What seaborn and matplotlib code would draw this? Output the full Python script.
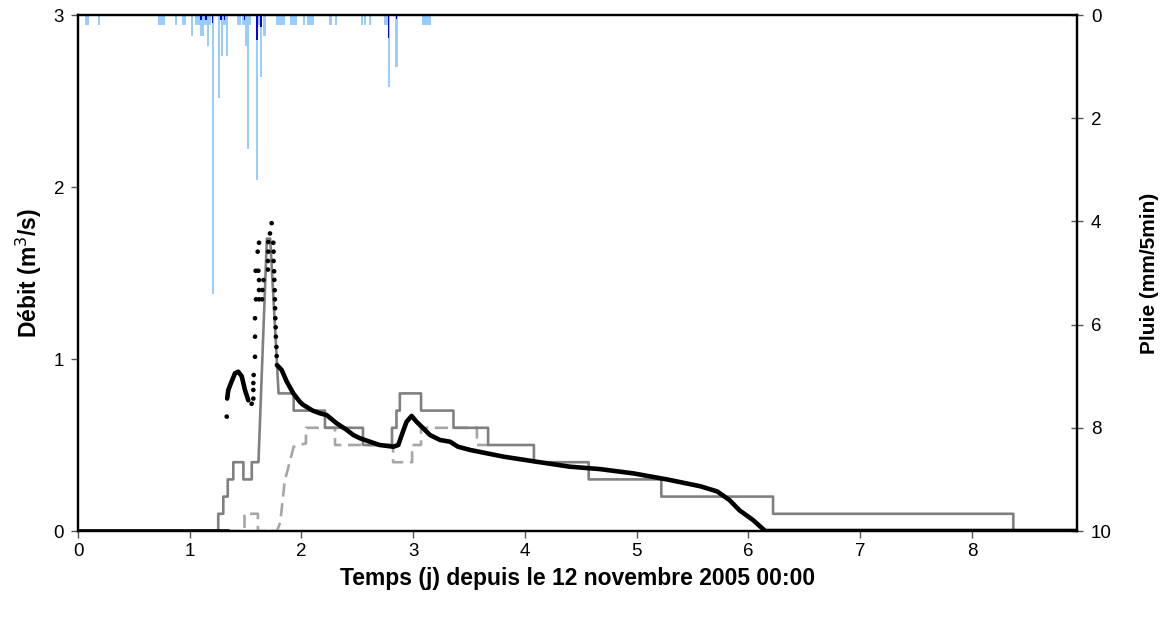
import numpy as np
import pandas as pd
import matplotlib
matplotlib.use("Agg")
import matplotlib.pyplot as plt
import seaborn as sns

# ---------------- data ----------------
# rain gauge 1 (light blue), time in days, rain in mm/5min
rain1_t = [0.07, 0.09, 0.19, 0.73, 0.75, 0.77, 0.88, 0.94, 0.96, 1.02, 1.06, 1.08,
           1.10, 1.12, 1.14, 1.16, 1.18, 1.21, 1.265, 1.29, 1.31, 1.33, 1.43, 1.45,
           1.48, 1.50, 1.52, 1.54, 1.60, 1.62, 1.64, 1.67, 1.78, 1.80, 1.82, 1.84,
           1.91, 1.93, 1.95, 2.02, 2.06, 2.08, 2.10, 2.26, 2.31, 2.54, 2.57, 2.61,
           2.75, 2.77, 2.78, 2.85, 3.09, 3.11, 3.13, 3.15]
rain1_mm = [0.2, 0.2, 0.2, 0.2, 0.2, 0.2, 0.2, 0.2, 0.2, 0.4, 0.2, 0.2,
            0.4, 0.4, 0.2, 0.6, 0.2, 5.4, 1.6, 0.8, 0.2, 0.8, 0.2, 0.2,
            0.2, 0.6, 2.6, 0.2, 3.2, 0.2, 1.2, 0.4, 0.2, 0.2, 0.2, 0.2,
            0.2, 0.2, 0.2, 0.2, 0.2, 0.2, 0.2, 0.2, 0.2, 0.2, 0.2, 0.2,
            0.2, 0.2, 1.4, 1.0, 0.2, 0.2, 0.2, 0.2]
# rain gauge 2 (dark blue)
rain2_t = [1.10, 1.145, 1.205, 1.28, 1.31, 1.49, 1.60, 1.64, 2.78, 2.85]
rain2_mm = [0.1, 0.1, 0.15, 0.1, 0.1, 0.1, 0.48, 0.23, 0.45, 0.07]

# observed discharge, continuous parts (time in days, m3/s)
obs0_t = [0.0, 1.34]
obs0_q = [0.0, 0.0]
obs1_t = [1.335, 1.345, 1.375, 1.405, 1.434, 1.465, 1.494, 1.524]
obs1_q = [0.77, 0.82, 0.87, 0.917, 0.926, 0.90, 0.82, 0.76]
obs2_t = [1.78, 1.823, 1.867, 1.927, 1.987, 2.016, 2.10, 2.166, 2.225, 2.315, 2.40,
          2.464, 2.524, 2.613, 2.70, 2.822, 2.866, 2.897, 2.94, 2.986, 3.03, 3.09,
          3.15, 3.24, 3.33, 3.40, 3.51, 3.81, 4.10, 4.40, 4.67, 4.97, 5.27, 5.57,
          5.72, 5.83, 5.92, 6.04, 6.15, 8.94]
obs2_q = [0.965, 0.936, 0.87, 0.80, 0.75, 0.733, 0.70, 0.684, 0.674, 0.626, 0.59,
          0.558, 0.539, 0.519, 0.50, 0.49, 0.50, 0.558, 0.635, 0.669, 0.635, 0.597,
          0.558, 0.529, 0.519, 0.49, 0.471, 0.432, 0.403, 0.374, 0.36, 0.335, 0.30, 0.26,
          0.23, 0.18, 0.12, 0.064, 0.0, 0.0]
# observed discharge, sparse points around the flood peak
dots_t = [1.331, 1.554, 1.569, 1.569, 1.569, 1.572, 1.584, 1.584, 1.584, 1.593, 1.62,
          1.647, 1.62, 1.65, 1.62, 1.66, 1.59, 1.614, 1.608, 1.62, 1.70, 1.70,
          1.703, 1.703, 1.718, 1.733, 1.748, 1.75, 1.75, 1.755, 1.757, 1.76,
          1.762, 1.764, 1.766, 1.769, 1.771, 1.776, 1.778]
dots_q = [0.665, 0.74, 0.77, 0.82, 0.86, 0.907, 1.013, 1.13, 1.237, 1.347, 1.347,
          1.347, 1.401, 1.401, 1.459, 1.459, 1.513, 1.513, 1.624, 1.676, 1.57, 1.52,
          1.68, 1.624, 1.73, 1.79, 1.676, 1.624, 1.57, 1.51, 1.46, 1.40,
          1.347, 1.295, 1.237, 1.184, 1.13, 1.07, 1.017]

# simulated discharge A (solid grey)
simA_t = [0.0, 1.255, 1.255, 1.30, 1.30, 1.34, 1.34, 1.39, 1.39, 1.48, 1.48, 1.555,
          1.555, 1.615, 1.69, 1.72, 1.795, 1.93, 1.93, 2.21, 2.21, 2.55, 2.55, 2.81,
          2.81, 2.85, 2.85, 2.88, 2.88, 3.07, 3.07, 3.36, 3.36, 3.67, 3.67, 4.08,
          4.08, 4.57, 4.57, 5.22, 5.22, 6.22, 6.22, 8.37, 8.37, 8.94]
simA_q = [0.0, 0.0, 0.1, 0.1, 0.2, 0.2, 0.3, 0.3, 0.4, 0.4, 0.3, 0.3,
          0.4, 0.4, 1.70, 1.70, 0.80, 0.80, 0.70, 0.70, 0.60, 0.60, 0.50, 0.50,
          0.60, 0.60, 0.70, 0.70, 0.80, 0.80, 0.70, 0.70, 0.60, 0.60, 0.50, 0.50,
          0.40, 0.40, 0.30, 0.30, 0.20, 0.20, 0.10, 0.10, 0.0, 0.0]
# simulated discharge B (dashed light grey)
simB_t = [1.34, 1.49, 1.49, 1.61, 1.61, 1.78, 1.81, 1.85, 1.93, 2.04, 2.04, 2.30,
          2.30, 2.82, 2.82, 2.99, 2.99, 3.07, 3.07, 3.57, 3.57, 3.67]
simB_q = [0.0, 0.0, 0.1, 0.1, 0.0, 0.0, 0.05, 0.29, 0.49, 0.51, 0.60, 0.60,
          0.50, 0.50, 0.40, 0.40, 0.50, 0.50, 0.60, 0.60, 0.50, 0.50]

x_ticks = [0, 1, 2, 3, 4, 5, 6, 7, 8]
q_ticks = [0, 1, 2, 3]
p_ticks = [0, 2, 4, 6, 8, 10]

# ---------------- figure ----------------
sns.set_theme(style="white")
plt.rcParams['font.family'] = ['Liberation Sans', 'DejaVu Sans']
plt.rcParams['text.color'] = 'black'
plt.rcParams['axes.labelcolor'] = 'black'

fig = plt.figure(figsize=(11.68, 6.25), dpi=100)
ax = fig.add_axes([78 / 1168, 1 - 531 / 625, (1077 - 78) / 1168, (531 - 15) / 625])
ax2 = ax.twinx()
ax.set_zorder(ax2.get_zorder() + 1)
ax.patch.set_visible(False)

# rain (inverted right axis)
ax2.bar(rain1_t, rain1_mm, width=0.02, color='#99CCFF', linewidth=0, align='center')
ax2.bar(rain2_t, rain2_mm, width=0.015, color='#0000FF', linewidth=0, align='center')
ax2.set_ylim(10, 0)
ax2.set_yticks(p_ticks)
ax2.set_yticklabels([str(v) for v in p_ticks])

# simulated discharges
sns.lineplot(x=simB_t, y=simB_q, ax=ax, sort=False, estimator=None,
             color='#A6A6A6', linewidth=1.9, linestyle=(0, (5, 2.5)), zorder=2)
sns.lineplot(x=simA_t, y=simA_q, ax=ax, sort=False, estimator=None,
             color='#808080', linewidth=1.9, zorder=3)

# observed discharge
for ot, oq in ((obs0_t, obs0_q), (obs1_t, obs1_q), (obs2_t, obs2_q)):
    sns.lineplot(x=ot, y=oq, ax=ax, estimator=None, sort=False,
                 color='black', linewidth=3.3, zorder=4)
sns.scatterplot(x=dots_t, y=dots_q, ax=ax, color='black', s=11,
                edgecolor='none', zorder=5)

ax.set_xlim(0, 8.94)
ax.set_ylim(0, 3)
ax.set_xticks(x_ticks)
ax.set_xticklabels([str(v) for v in x_ticks])
ax.set_yticks(q_ticks)
ax.set_yticklabels([str(v) for v in q_ticks])

ax.set_xlabel('Temps (j) depuis le 12 novembre 2005 00:00', fontsize=16.5,
              fontweight='bold', labelpad=5, color='black')
ax.set_ylabel('Débit (m$^3$/s)', fontsize=16.5, fontweight='bold', labelpad=7,
              color='black')
ax2.set_ylabel('Pluie (mm/5min)', fontsize=15, fontweight='bold', labelpad=20,
               color='black')

for a in (ax, ax2):
    for sp in a.spines.values():
        sp.set_visible(True)
        sp.set_color('black')
        sp.set_linewidth(1.6)

ax.tick_params(axis='x', direction='out', length=5, width=1, color='#555555',
               labelsize=13.5, pad=4, bottom=True, labelcolor='black')
ax.tick_params(axis='y', direction='out', length=5, width=1, color='#555555',
               labelsize=13.5, pad=5, left=True, labelcolor='black')
ax2.tick_params(axis='y', direction='inout', length=8, width=1, color='#555555',
                labelsize=13.5, pad=6, right=True, labelcolor='black')

fig.savefig('out.png', dpi=100)
